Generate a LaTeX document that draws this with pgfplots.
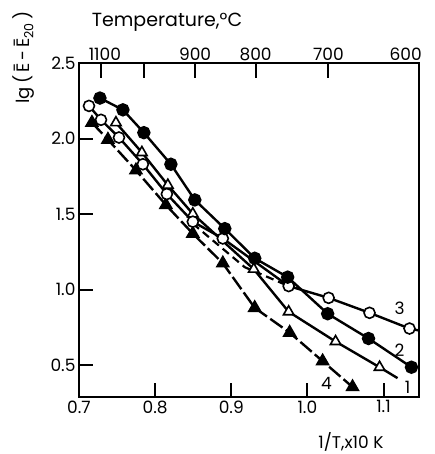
\documentclass[border=0pt]{standalone}
\usepackage{fontspec}
\setmainfont{Poppins}
\usepackage{pgfplots}
\pgfplotsset{compat=1.18}
\begin{document}
\begin{tikzpicture}[font=\fontsize{17}{20}\selectfont]
\pgfplotsset{common/.style={
  scale only axis, width=340pt, height=334pt,
  xmin=0.7, xmax=1.1466, ymin=0.29, ymax=2.5,
  tick align=inside, major tick length=14pt,
  every tick/.style={line width=2pt, black},
  tick label style={font=\fontsize{17}{20}\selectfont},
  axis line style={line width=1.6pt},
}}
% top temperature scale: 1/T of 1100, 1000, 900, 800, 700 C
\begin{axis}[common, hide y axis, clip mode=individual,
  xtick pos=top, major tick length=15pt,
  xtick={0.7283,0.7855,0.8525,0.9320,1.0277},
  xticklabels={}]
\node[anchor=south, inner sep=2pt] at (axis cs:0.7340,2.5) {1100};
\node[anchor=south, inner sep=2pt] at (axis cs:0.8525,2.5) {900};
\node[anchor=south, inner sep=2pt] at (axis cs:0.9320,2.5) {800};
\node[anchor=south, inner sep=2pt] at (axis cs:1.0277,2.5) {700};
\node[anchor=south, inner sep=2pt] at (axis cs:1.1290,2.5) {600};
\end{axis}
\begin{axis}[common, name=main, clip mode=individual,
  xtick pos=bottom, ytick pos=left,
  xtick={0.7,0.8,0.9,1.0,1.1}, ytick={0.5,1.0,1.5,2.0,2.5},
  /pgf/number format/.cd, fixed, fixed zerofill, precision=1, assume math mode=true]
% curve 4
\addplot[black, line width=2.4pt, dash pattern=on 15pt off 4pt,
  mark=triangle*, mark size=6pt, mark options={solid}] coordinates {
  (0.7170,2.105) (0.7380,1.993) (0.7748,1.790) (0.8141,1.561) (0.8495,1.371)
  (0.8889,1.175) (0.9308,0.880) (0.9767,0.716) (1.0200,0.527) (1.0593,0.356)
};
% dashed branch
\addplot[black, line width=2.2pt, dash pattern=on 8pt off 5pt] coordinates {
  (0.8495,1.437) (0.9177,1.149) (0.9754,1.024)
};
% curve 1
\addplot[black, line width=2.4pt, mark=triangle*, mark size=6pt,
  mark options={fill=white, line width=1.6pt}, mark indices={1,2,3,4,5,6,7,8}] coordinates {
  (0.7485,2.105) (0.7826,1.908) (0.8167,1.692) (0.8495,1.502) (0.9295,1.136)
  (0.9754,0.854) (1.0370,0.657) (1.0948,0.487) (1.1184,0.415)
};
% curve 3
\addplot[black, line width=2.4pt, mark=*, mark size=5.5pt,
  mark options={fill=white, line width=1.6pt}, mark indices={1,2,3,4,5,6,7,8,9,10,11}] coordinates {
  (0.7131,2.216) (0.7289,2.124) (0.7525,2.007) (0.7839,1.830) (0.8154,1.633)
  (0.8495,1.450) (0.8889,1.339) (0.9754,1.024) (1.0279,0.946) (1.0816,0.847)
  (1.1341,0.743) (1.1466,0.730)
};
% curve 2
\addplot[black, line width=2.4pt, mark=*, mark size=5.5pt] coordinates {
  (0.7275,2.268) (0.7577,2.190) (0.7852,2.039) (0.8207,1.830) (0.8521,1.594)
  (0.8915,1.404) (0.9308,1.208) (0.9741,1.083) (1.0266,0.841) (1.0803,0.677)
  (1.1367,0.487)
};
\node at (axis cs:1.121,0.874) {3};
\node at (axis cs:1.121,0.600) {2};
\node at (axis cs:1.1315,0.356) {1};
\node at (axis cs:1.0252,0.382) {4};
\end{axis}
\node[font=\fontsize{19}{22}\selectfont] at (88pt,375pt) {Temperature,°C};
\node at (272pt,-45pt) {1/T,x10 K};
\node[rotate=90, anchor=east, font=\fontsize{18}{22}\selectfont] at (-55pt,389pt)
  {lg\,(\,Ē\,-\,Ē\textsubscript{20}\,)};
\pgfresetboundingbox
\path[use as bounding box] (-79pt,-57pt) rectangle (356pt,397pt);
\end{tikzpicture}
\end{document}
